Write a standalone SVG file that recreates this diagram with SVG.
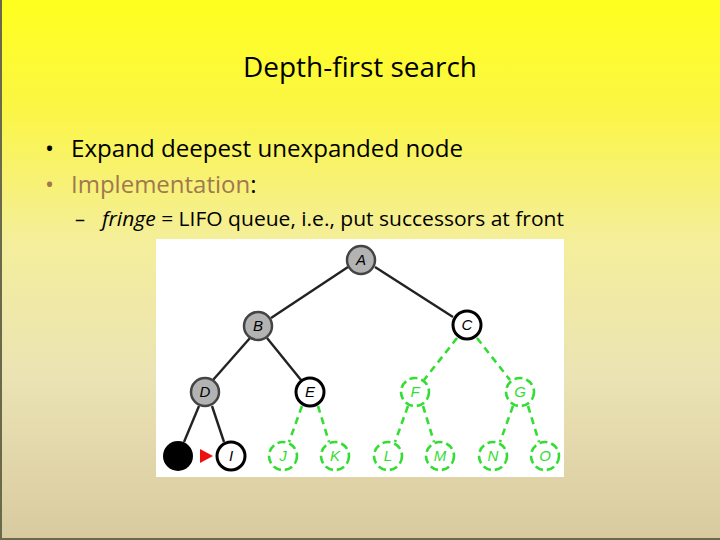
<svg xmlns="http://www.w3.org/2000/svg" width="720" height="540" viewBox="0 0 720 540">
<defs>
<linearGradient id="bg" x1="0" y1="0" x2="0" y2="1">
<stop offset="0" stop-color="#ffff1e"/>
<stop offset="0.2" stop-color="#fbf645"/>
<stop offset="0.45" stop-color="#f4ee9c"/>
<stop offset="0.7" stop-color="#ebe3b4"/>
<stop offset="1" stop-color="#d8caa0"/>
</linearGradient>
<style>
.t{font-family:"Open Sans","Liberation Sans",sans-serif;fill:#000}
.lbl{font-family:"Liberation Sans",sans-serif;font-style:italic;font-size:15px;text-anchor:middle}
.e{stroke:#222;stroke-width:2.4;fill:none}
.g{stroke:#33dd33;stroke-width:2.6;fill:none;stroke-dasharray:7 5}
.gray circle{fill:#b3b3b3;stroke:#444;stroke-width:2.5}
.open circle{fill:#fff;stroke:#000;stroke-width:3}
.green circle{fill:#fff;stroke:#33dd33;stroke-width:2.6;stroke-dasharray:8 4}
.green text{fill:#33dd33}
</style>
</defs>
<rect width="720" height="540" fill="url(#bg)"/>
<rect x="0" y="0" width="2" height="540" fill="#6a6a4a"/>
<rect x="0" y="538" width="720" height="2" fill="#6a6a4a"/>
<text class="t" x="360" y="77" font-size="28" text-anchor="middle" textLength="234" lengthAdjust="spacingAndGlyphs">Depth-first search</text>
<text class="t" x="45" y="157" font-size="24">•</text>
<text class="t" x="71" y="157" font-size="24" textLength="392" lengthAdjust="spacingAndGlyphs">Expand deepest unexpanded node</text>
<text class="t" x="45" y="193" font-size="24" style="fill:#a07850">•</text>
<text class="t" x="71" y="193" font-size="24"><tspan style="fill:#a07850">Implementation</tspan>:</text>
<text class="t" x="75" y="226" font-size="20">–</text>
<text class="t" x="102" y="226" font-size="20" textLength="462" lengthAdjust="spacingAndGlyphs"><tspan font-style="italic">fringe</tspan> = LIFO queue, i.e., put successors at front</text>
<rect x="156" y="239" width="408" height="238" fill="#fff"/>
<g id="connectors">
<line class="e" x1="348" y1="267" x2="271" y2="318"/>
<line class="e" x1="375" y1="267" x2="453" y2="317"/>
<line class="e" x1="250" y1="338" x2="213" y2="380"/>
<line class="e" x1="267" y1="338" x2="301" y2="380"/>
<line class="e" x1="199" y1="406" x2="184" y2="442"/>
<line class="e" x1="212" y1="406" x2="224" y2="442"/>
<line class="g" x1="457" y1="338" x2="424" y2="380"/>
<line class="g" x1="477" y1="338" x2="510" y2="380"/>
<line class="g" x1="302" y1="406" x2="289" y2="442"/>
<line class="g" x1="318" y1="406" x2="329" y2="442"/>
<line class="g" x1="408" y1="406" x2="395" y2="442"/>
<line class="g" x1="423" y1="406" x2="434" y2="442"/>
<line class="g" x1="513" y1="406" x2="500" y2="442"/>
<line class="g" x1="528" y1="406" x2="539" y2="442"/>
<polygon points="200,449 213,456 200,463" fill="#ee1111"/>
</g>
<g id="A" class="gray"><circle cx="361" cy="260" r="14"/><text class="lbl" x="361" y="265">A</text></g>
<g id="B" class="gray"><circle cx="258" cy="326" r="14"/><text class="lbl" x="258" y="331">B</text></g>
<g id="C" class="open"><circle cx="467" cy="325" r="14"/><text class="lbl" x="467" y="330">C</text></g>
<g id="D" class="gray"><circle cx="205" cy="392" r="14"/><text class="lbl" x="205" y="397">D</text></g>
<g id="E" class="open"><circle cx="310" cy="392" r="14"/><text class="lbl" x="310" y="397">E</text></g>
<g id="F" class="green"><circle cx="415" cy="392" r="14"/><text class="lbl" x="415" y="397">F</text></g>
<g id="G" class="green"><circle cx="520" cy="392" r="14"/><text class="lbl" x="520" y="397">G</text></g>
<g id="H"><circle cx="178" cy="456" r="15" fill="#000"/></g>
<g id="I" class="open"><circle cx="231" cy="456" r="14"/><text class="lbl" x="231" y="461">I</text></g>
<g id="J" class="green"><circle cx="283" cy="456" r="14"/><text class="lbl" x="283" y="461">J</text></g>
<g id="K" class="green"><circle cx="335" cy="456" r="14"/><text class="lbl" x="335" y="461">K</text></g>
<g id="L" class="green"><circle cx="388" cy="456" r="14"/><text class="lbl" x="388" y="461">L</text></g>
<g id="M" class="green"><circle cx="440" cy="456" r="14"/><text class="lbl" x="440" y="461">M</text></g>
<g id="N" class="green"><circle cx="493" cy="456" r="14"/><text class="lbl" x="493" y="461">N</text></g>
<g id="O" class="green"><circle cx="545" cy="456" r="14"/><text class="lbl" x="545" y="461">O</text></g>
</svg>
